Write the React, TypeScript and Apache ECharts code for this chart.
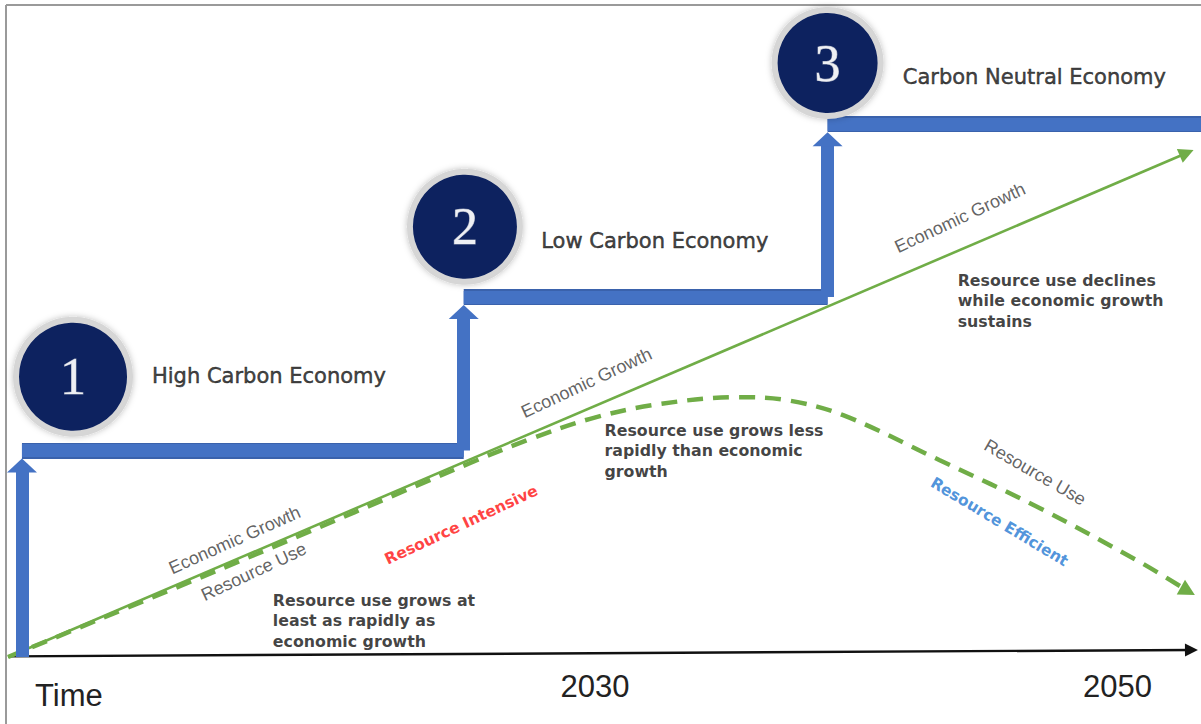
import React, { useEffect, useRef } from 'react';
import * as echarts from 'echarts';

// ---- data (chart units: x = time 0..100, y = level 0..100) ----
const tickPositions = [5.1, 49.2, 93.0];
const tickLabels = ['Time', '2030', '2050'];

const economicGrowth = [[0, 0], [98.8, 84.0]];
const resourceUse = [
  [0, 0], [19.45, 16.0], [38.7, 32.3], [43.75, 36.3], [48.8, 39.7], [54.1, 42.0],
  [61.1, 43.3], [65.3, 42.8], [70.0, 40.3], [78.1, 32.8], [86.5, 24.8], [94.9, 15.8], [98.9, 11.0],
];
const timeAxisLine = [[0, 0.1], [99.2, 1.17]];

const stageX = [1.17, 38.2, 68.7];
const stageLevel = [34.4, 60.0, 88.8];
const stageEndX = 100;
const stageNumbers = ['1', '2', '3'];
const stageNames = ['High Carbon Economy', 'Low Carbon Economy', 'Carbon Neutral Economy'];
const stageBadgeAt = [[5.45, 46.7], [38.3, 71.7], [68.7, 99.0]];
const stageNameAt = [[12.07, 46.8], [44.7, 69.3], [75.0, 96.7]];

const curveLabels = ['Economic Growth', 'Resource Use', 'Resource Intensive', 'Economic Growth', 'Economic Growth', 'Resource Use', 'Resource Efficient'];
const curveLabelAt = [[19.0, 19.5], [20.6, 14.2], [38.0, 22.0], [48.5, 45.7], [79.8, 73.2], [86.1, 30.8], [83.1, 22.5]];

const phaseNotes = [
  'Resource use grows at\nleast as rapidly as\neconomic growth',
  'Resource use grows less\nrapidly than economic\ngrowth',
  'Resource use declines\nwhile economic growth\nsustains',
];
const phaseNoteAt = [[22.2, 11.2], [50.0, 39.5], [79.6, 64.5]];

// ---- styles ----
const GREEN = '#70AD47';
const BLUE = '#4472C4';
const BLUE_EDGE = '#3A62AC';
const NAVY = '#0B215F';
const ARROW_GAP = 2.5;
const badgeSize = [114, 110, 106];
const curveLabelStyle = [
  { rotate: 24, color: '#3a3a3a', bold: false },
  { rotate: 25, color: '#3a3a3a', bold: false },
  { rotate: 25, color: '#FF1010', bold: true },
  { rotate: 25, color: '#3a3a3a', bold: false },
  { rotate: 25, color: '#3a3a3a', bold: false },
  { rotate: -30, color: '#3a3a3a', bold: false },
  { rotate: -31, color: '#2378D2', bold: true },
];

export default function App() {
  const ref = useRef<HTMLDivElement>(null);
  useEffect(() => {
    if (!ref.current) return;
    const chart = echarts.init(ref.current, null, { renderer: 'svg' });

    const vArrows = stageX.map((x, i) => ({
      coords: [[x, i === 0 ? 0 : stageLevel[i - 1]], [x, stageLevel[i] - ARROW_GAP]],
    }));
    const arrowHeads = stageX.map((x, i) => [x, stageLevel[i] - ARROW_GAP]);
    const hBars = stageX.map((x, i) => ({
      coords: [[x, stageLevel[i]], [i < stageX.length - 1 ? stageX[i + 1] : stageEndX, stageLevel[i]]],
    }));

    const option: any = {
      animation: false,
      backgroundColor: '#ffffff',
      grid: { left: 8, right: 0, top: 57, bottom: 67 },
      xAxis: {
        type: 'value', min: 0, max: 100,
        axisLine: { show: false }, axisTick: { show: false }, splitLine: { show: false },
        axisLabel: {
          customValues: tickPositions,
          margin: 14,
          fontFamily: 'Liberation Sans',
          fontSize: 31,
          color: '#222',
          formatter: (v: number) => {
            let best = 0;
            tickPositions.forEach((p, i) => { if (Math.abs(p - v) < Math.abs(tickPositions[best] - v)) best = i; });
            return best === 0 ? '{t|' + tickLabels[best] + '}' : tickLabels[best];
          },
          rich: { t: { fontFamily: 'Liberation Sans', fontSize: 31, color: '#222', padding: [9, 0, 0, 0] } },
        },
      },
      yAxis: { type: 'value', min: 0, max: 100, show: false },
      graphic: [
        { type: 'line', shape: { x1: 6, y1: 5, x2: 6, y2: 724 }, style: { stroke: '#9a9a9a', lineWidth: 2 } },
        { type: 'line', shape: { x1: 6, y1: 5, x2: 1201, y2: 5 }, style: { stroke: '#9a9a9a', lineWidth: 2 } },
      ],
      series: [
        {
          type: 'lines', coordinateSystem: 'cartesian2d', silent: true, z: 2,
          data: [{ coords: timeAxisLine }],
          symbol: ['none', 'triangle'], symbolSize: 13,
          lineStyle: { color: '#111', width: 2.4, opacity: 1 },
        },
        {
          type: 'line', silent: true, z: 3, smooth: 0.35, clip: false,
          symbol: 'none',
          data: resourceUse.map((p, i) => i === resourceUse.length - 1
            ? { value: p, symbol: 'triangle', symbolSize: [17, 16], symbolRotate: -119 }
            : { value: p, symbol: 'none' }),
          itemStyle: { color: GREEN },
          lineStyle: { color: GREEN, width: 4.5, type: [16, 10] },
        },
        {
          type: 'lines', coordinateSystem: 'cartesian2d', silent: true, z: 3,
          data: [{ coords: economicGrowth }],
          symbol: ['none', 'triangle'], symbolSize: 15,
          lineStyle: { color: GREEN, width: 2.6, opacity: 1 },
        },
        {
          type: 'lines', coordinateSystem: 'cartesian2d', silent: true, z: 4,
          data: hBars, symbol: 'none',
          lineStyle: { color: BLUE_EDGE, width: 16, opacity: 1 },
        },
        {
          type: 'lines', coordinateSystem: 'cartesian2d', silent: true, z: 4,
          data: hBars, symbol: 'none',
          lineStyle: { color: BLUE, width: 13, opacity: 1 },
        },
        {
          type: 'lines', coordinateSystem: 'cartesian2d', silent: true, z: 4,
          data: vArrows, symbol: 'none',
          lineStyle: { color: BLUE, width: 13, opacity: 1 },
        },
        {
          type: 'scatter', silent: true, z: 4, clip: false,
          symbol: 'triangle', symbolSize: [30, 14],
          data: arrowHeads,
          itemStyle: { color: BLUE, opacity: 1 },
        },
        {
          type: 'scatter', silent: true, z: 5, clip: false,
          symbol: 'circle',
          data: stageBadgeAt.map((p, i) => ({ value: p, symbolSize: badgeSize[i] })),
          itemStyle: { color: NAVY, opacity: 1, borderColor: '#d6d6d6', borderWidth: 6, shadowBlur: 6, shadowColor: 'rgba(0,0,0,0.25)' },
          label: {
            show: true, position: 'inside',
            formatter: (p: any) => stageNumbers[p.dataIndex],
            fontFamily: 'Liberation Serif', fontSize: 52, color: '#eef0f4',
            textBorderColor: '#8a93ab', textBorderWidth: 1,
          },
        },
        {
          type: 'scatter', silent: true, z: 6, clip: false,
          symbolSize: 0.1, itemStyle: { color: 'rgba(0,0,0,0)' },
          data: stageNameAt.map((p) => p),
          label: {
            show: true, position: 'inside', align: 'left', verticalAlign: 'middle',
            formatter: (p: any) => stageNames[p.dataIndex],
            fontFamily: 'DejaVu Sans', fontSize: 21, color: '#111',
            textBorderColor: '#111', textBorderWidth: 0.5,
          },
        },
        {
          type: 'scatter', silent: true, z: 6, clip: false,
          symbolSize: 0.1, itemStyle: { color: 'rgba(0,0,0,0)' },
          data: curveLabelAt.map((p, i) => ({
            value: p,
            label: {
              show: true, position: 'inside', align: 'center', verticalAlign: 'middle',
              rotate: curveLabelStyle[i].rotate,
              formatter: curveLabels[i],
              fontFamily: curveLabelStyle[i].bold ? 'DejaVu Sans' : 'Liberation Sans',
              fontWeight: curveLabelStyle[i].bold ? 'bold' : 'normal',
              fontSize: curveLabelStyle[i].bold ? 15.5 : 18,
              color: curveLabelStyle[i].color,
            },
          })),
        },
        {
          type: 'scatter', silent: true, z: 6, clip: false,
          symbolSize: 0.1, itemStyle: { color: 'rgba(0,0,0,0)' },
          data: phaseNoteAt.map((p) => p),
          label: {
            show: true, position: 'inside', align: 'left', verticalAlign: 'top',
            formatter: (p: any) => phaseNotes[p.dataIndex],
            fontFamily: 'DejaVu Sans', fontWeight: 'bold', fontSize: 15.8, lineHeight: 20.5, color: '#111',
          },
        },
      ],
    };
    chart.setOption(option);
    return () => chart.dispose();
  }, []);
  return <div ref={ref} style={{ position: 'fixed', left: 0, top: 0, width: 1201, height: 724, background: '#fff' }} />;
}
